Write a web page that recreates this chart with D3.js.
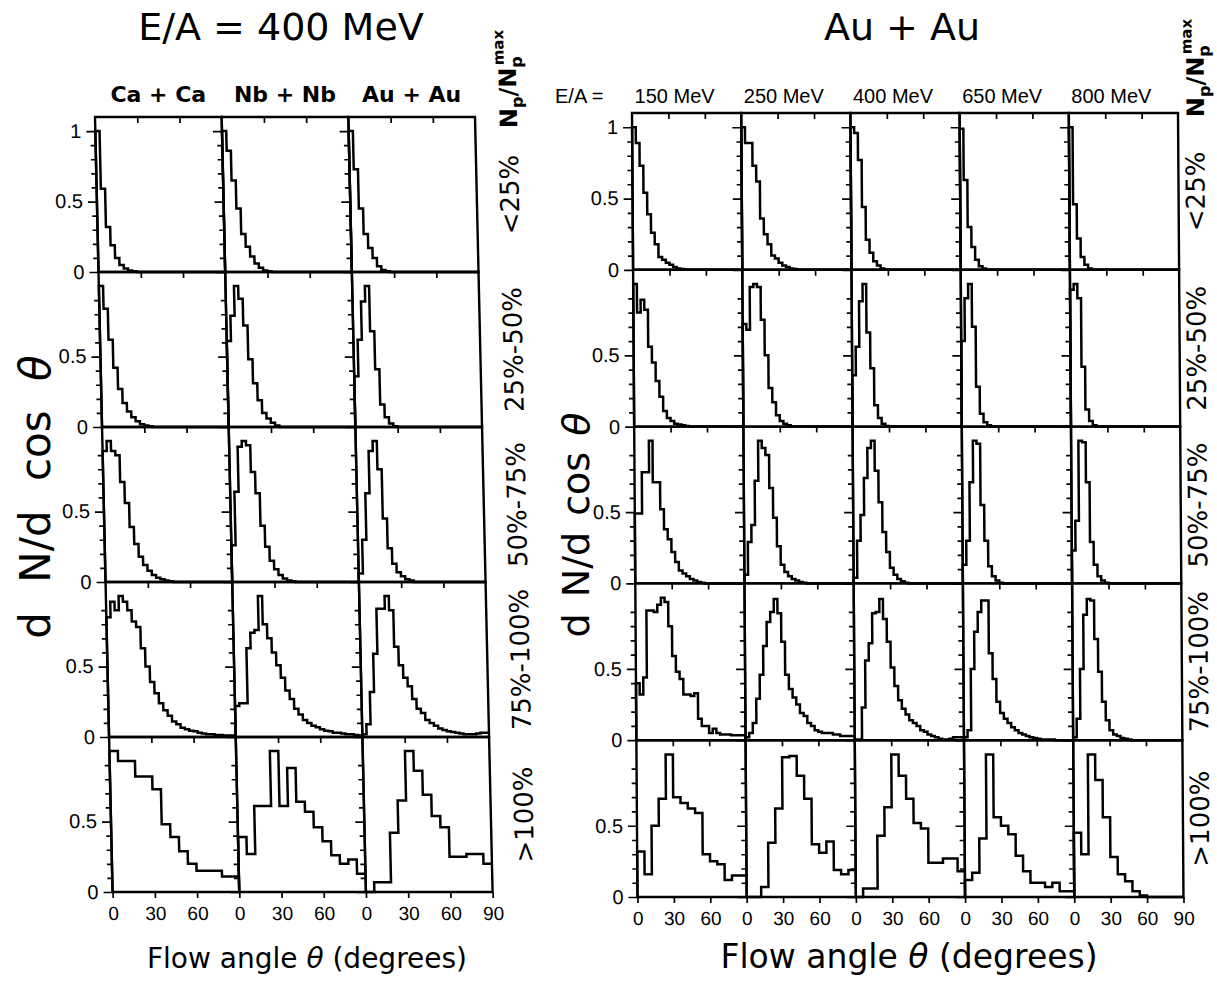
<!DOCTYPE html>
<html>
<head>
<meta charset="utf-8">
<script src="https://cdn.jsdelivr.net/npm/d3@7"></script>
<style>
  body { margin: 0; background: #fff; }
  text { fill: #000; }
</style>
</head>
<body>
<svg id="chart" width="1217" height="985"></svg>
<script>
// rows: centrality bins (N_p / N_p^max)
const centralityBins = ["<25%", "25%-50%", "50%-75%", "75%-100%", ">100%"];
// columns
const leftSystems = ["Ca + Ca", "Nb + Nb", "Au + Au"];
const rightEnergies = ["150 MeV", "250 MeV", "400 MeV", "650 MeV", "800 MeV"];
const xTicks = [0, 30, 60];
const yMajorTicks = [0, 0.5, 1];
const yMinorTicks = [0.1, 0.2, 0.3, 0.4, 0.6, 0.7, 0.8, 0.9];

// dN/dcos(theta) histograms, one list per centrality bin
// rows 1-4: 3 degree bins (30 values), row 5: 6 degree bins (15 values)

// E/A = 400 MeV, Ca + Ca
const caCa = [
  [1.0, 0.59, 0.32, 0.19, 0.1, 0.05, 0.025, 0.01, 0.005, 0, 0, 0, 0, 0, 0, 0, 0, 0, 0, 0, 0, 0, 0, 0, 0, 0, 0, 0, 0, 0],
  [1.0, 0.84, 0.62, 0.42, 0.27, 0.17, 0.11, 0.07, 0.04, 0.02, 0.01, 0.005, 0, 0, 0, 0, 0, 0, 0, 0, 0, 0, 0, 0, 0, 0, 0, 0, 0, 0],
  [0.93, 1.0, 0.93, 0.9, 0.71, 0.56, 0.39, 0.27, 0.18, 0.12, 0.08, 0.05, 0.03, 0.02, 0.01, 0.005, 0, 0, 0, 0, 0, 0, 0, 0, 0, 0, 0, 0, 0, 0],
  [0.85, 0.96, 0.9, 1.0, 0.96, 0.9, 0.82, 0.78, 0.63, 0.5, 0.39, 0.31, 0.24, 0.19, 0.15, 0.11, 0.09, 0.065, 0.055, 0.045, 0.04, 0.03, 0.025, 0.02, 0.02, 0.015, 0.015, 0.01, 0.01, 0.01],
  [1.0, 0.93, 0.93, 0.82, 0.82, 0.73, 0.48, 0.39, 0.29, 0.2, 0.15, 0.15, 0.15, 0.11, 0.11]
];
// E/A = 400 MeV, Nb + Nb
const nbNb = [
  [1.0, 0.86, 0.65, 0.45, 0.27, 0.18, 0.11, 0.06, 0.03, 0.01, 0.005, 0, 0, 0, 0, 0, 0, 0, 0, 0, 0, 0, 0, 0, 0, 0, 0, 0, 0, 0],
  [0.61, 0.79, 1.0, 0.91, 0.72, 0.48, 0.31, 0.19, 0.1, 0.06, 0.03, 0.01, 0, 0, 0, 0, 0, 0, 0, 0, 0, 0, 0, 0, 0, 0, 0, 0, 0, 0],
  [0.26, 0.64, 0.96, 1.0, 0.97, 0.78, 0.63, 0.4, 0.25, 0.15, 0.09, 0.05, 0.025, 0.01, 0.005, 0, 0, 0, 0, 0, 0, 0, 0, 0, 0, 0, 0, 0, 0, 0],
  [0.22, 0.24, 0.24, 0.63, 0.74, 0.76, 1.0, 0.8, 0.7, 0.6, 0.51, 0.42, 0.33, 0.27, 0.2, 0.16, 0.12, 0.1, 0.08, 0.07, 0.055, 0.045, 0.04, 0.03, 0.03, 0.025, 0.02, 0.02, 0.015, 0.01],
  [0.39, 0.27, 0.61, 0.61, 1.0, 0.61, 0.88, 0.64, 0.57, 0.46, 0.36, 0.26, 0.2, 0.23, 0.13]
];
// E/A = 400 MeV, Au + Au
const auAu400Left = [
  [1.0, 0.73, 0.45, 0.27, 0.17, 0.1, 0.04, 0.015, 0.005, 0, 0, 0, 0, 0, 0, 0, 0, 0, 0, 0, 0, 0, 0, 0, 0, 0, 0, 0, 0, 0],
  [0.36, 0.62, 0.89, 1.0, 0.68, 0.41, 0.16, 0.07, 0.025, 0.005, 0, 0, 0, 0, 0, 0, 0, 0, 0, 0, 0, 0, 0, 0, 0, 0, 0, 0, 0, 0],
  [0.06, 0.3, 0.63, 0.93, 1.0, 0.8, 0.45, 0.24, 0.13, 0.07, 0.04, 0.02, 0.01, 0, 0, 0, 0, 0, 0, 0, 0, 0, 0, 0, 0, 0, 0, 0, 0, 0],
  [0.02, 0.09, 0.32, 0.59, 0.91, 0.91, 1.0, 0.9, 0.64, 0.51, 0.42, 0.36, 0.27, 0.2, 0.17, 0.12, 0.1, 0.08, 0.06, 0.05, 0.04, 0.035, 0.03, 0.025, 0.02, 0.02, 0.02, 0.025, 0.03, 0.03],
  [0.0, 0.07, 0.07, 0.42, 0.65, 1.0, 0.86, 0.69, 0.54, 0.46, 0.25, 0.25, 0.27, 0.27, 0.2]
];

// Au + Au, E/A = 150 MeV
const auAu150 = [
  [1.0, 0.89, 0.73, 0.54, 0.39, 0.26, 0.18, 0.09, 0.07, 0.05, 0.035, 0.02, 0.01, 0.005, 0, 0, 0, 0, 0, 0, 0, 0, 0, 0, 0, 0, 0, 0, 0, 0],
  [1.0, 0.8, 0.89, 0.82, 0.56, 0.45, 0.32, 0.21, 0.11, 0.06, 0.04, 0.02, 0.015, 0.01, 0.005, 0, 0, 0, 0, 0, 0, 0, 0, 0, 0, 0, 0, 0, 0, 0],
  [0.49, 0.49, 0.78, 0.78, 1.0, 0.71, 0.71, 0.52, 0.38, 0.31, 0.22, 0.15, 0.09, 0.07, 0.05, 0.03, 0.02, 0.01, 0.005, 0, 0, 0, 0, 0, 0, 0, 0, 0, 0, 0],
  [0.4, 0.32, 0.44, 0.91, 0.91, 0.9, 0.95, 1.0, 0.97, 0.8, 0.59, 0.48, 0.43, 0.32, 0.32, 0.31, 0.33, 0.15, 0.1, 0.1, 0.05, 0.08, 0.05, 0.04, 0.04, 0.04, 0.035, 0.035, 0.035, 0.035],
  [0.32, 0.16, 0.5, 0.69, 1.0, 0.7, 0.66, 0.62, 0.59, 0.3, 0.25, 0.23, 0.12, 0.15, 0.15]
];
// Au + Au, E/A = 250 MeV
const auAu250 = [
  [1.0, 0.89, 0.89, 0.73, 0.62, 0.36, 0.25, 0.18, 0.1, 0.08, 0.05, 0.03, 0.02, 0.01, 0.005, 0, 0, 0, 0, 0, 0, 0, 0, 0, 0, 0, 0, 0, 0, 0],
  [0.72, 0.68, 0.98, 1.0, 0.98, 0.75, 0.5, 0.27, 0.17, 0.08, 0.04, 0.02, 0.01, 0, 0, 0, 0, 0, 0, 0, 0, 0, 0, 0, 0, 0, 0, 0, 0, 0],
  [0.06, 0.29, 0.41, 0.72, 1.0, 0.95, 0.9, 0.67, 0.46, 0.26, 0.13, 0.08, 0.05, 0.03, 0.02, 0.01, 0.005, 0, 0, 0, 0, 0, 0, 0, 0, 0, 0, 0, 0, 0],
  [0.02, 0.05, 0.12, 0.29, 0.46, 0.66, 0.83, 0.9, 0.99, 0.89, 0.69, 0.46, 0.36, 0.3, 0.25, 0.19, 0.17, 0.12, 0.1, 0.07, 0.06, 0.05, 0.05, 0.05, 0.04, 0.04, 0.03, 0.03, 0.03, 0.03],
  [0, 0, 0.07, 0.38, 0.62, 0.98, 0.99, 0.85, 0.69, 0.37, 0.31, 0.39, 0.19, 0.16, 0.19]
];
// Au + Au, E/A = 400 MeV
const auAu400 = [
  [1.0, 0.96, 0.77, 0.44, 0.21, 0.12, 0.06, 0.03, 0.01, 0, 0, 0, 0, 0, 0, 0, 0, 0, 0, 0, 0, 0, 0, 0, 0, 0, 0, 0, 0, 0],
  [0.36, 0.56, 0.88, 1.0, 0.66, 0.41, 0.15, 0.06, 0.02, 0.005, 0, 0, 0, 0, 0, 0, 0, 0, 0, 0, 0, 0, 0, 0, 0, 0, 0, 0, 0, 0],
  [0.04, 0.3, 0.48, 0.74, 0.95, 1.0, 0.79, 0.57, 0.36, 0.22, 0.11, 0.06, 0.03, 0.015, 0.005, 0, 0, 0, 0, 0, 0, 0, 0, 0, 0, 0, 0, 0, 0, 0],
  [0.005, 0.005, 0.23, 0.56, 0.68, 0.89, 0.9, 0.99, 0.85, 0.69, 0.51, 0.38, 0.28, 0.22, 0.18, 0.14, 0.12, 0.1, 0.07, 0.06, 0.04, 0.03, 0.02, 0.01, 0.005, 0.005, 0.01, 0.02, 0.02, 0.02],
  [0, 0.06, 0.06, 0.43, 0.63, 1.0, 0.85, 0.69, 0.52, 0.48, 0.24, 0.24, 0.27, 0.27, 0.18]
];
// Au + Au, E/A = 650 MeV
const auAu650 = [
  [0.99, 0.63, 0.3, 0.16, 0.07, 0.025, 0.01, 0, 0, 0, 0, 0, 0, 0, 0, 0, 0, 0, 0, 0, 0, 0, 0, 0, 0, 0, 0, 0, 0, 0],
  [0.6, 0.9, 1.0, 0.7, 0.28, 0.09, 0.03, 0.01, 0, 0, 0, 0, 0, 0, 0, 0, 0, 0, 0, 0, 0, 0, 0, 0, 0, 0, 0, 0, 0, 0],
  [0.13, 0.3, 0.71, 1.0, 0.98, 0.55, 0.3, 0.12, 0.05, 0.02, 0.005, 0, 0, 0, 0, 0, 0, 0, 0, 0, 0, 0, 0, 0, 0, 0, 0, 0, 0, 0],
  [0.02, 0.07, 0.5, 0.76, 0.9, 0.98, 0.98, 0.61, 0.43, 0.27, 0.19, 0.15, 0.12, 0.09, 0.07, 0.05, 0.04, 0.03, 0.02, 0.015, 0.01, 0.005, 0.005, 0.005, 0.005, 0, 0, 0, 0, 0],
  [0.12, 0.17, 0.41, 1.0, 0.56, 0.5, 0.44, 0.29, 0.18, 0.1, 0.1, 0.07, 0.1, 0.04, 0.04]
];
// Au + Au, E/A = 800 MeV
const auAu800 = [
  [1.0, 0.46, 0.22, 0.09, 0.035, 0.01, 0, 0, 0, 0, 0, 0, 0, 0, 0, 0, 0, 0, 0, 0, 0, 0, 0, 0, 0, 0, 0, 0, 0, 0],
  [0.96, 1.0, 0.9, 0.42, 0.12, 0.04, 0.01, 0, 0, 0, 0, 0, 0, 0, 0, 0, 0, 0, 0, 0, 0, 0, 0, 0, 0, 0, 0, 0, 0, 0],
  [0.23, 0.44, 1.0, 0.99, 0.71, 0.29, 0.13, 0.05, 0.02, 0.005, 0, 0, 0, 0, 0, 0, 0, 0, 0, 0, 0, 0, 0, 0, 0, 0, 0, 0, 0, 0],
  [0.02, 0.15, 0.5, 0.88, 0.99, 0.98, 0.71, 0.48, 0.27, 0.14, 0.07, 0.04, 0.03, 0.015, 0.01, 0.005, 0, 0, 0, 0, 0, 0, 0, 0, 0, 0, 0, 0, 0, 0],
  [0.45, 0.3, 1.0, 0.82, 0.56, 0.28, 0.16, 0.11, 0.04, 0.01, 0, 0, 0, 0, 0]
];

const svg = d3.select("#chart");
svg.append("rect").attr("width", 1217).attr("height", 985).attr("fill", "#fff");

const tickFont = "'Liberation Sans', Arial, sans-serif";
const titleFont = "'DejaVu Sans', sans-serif";

// one block of small multiples (rows = centrality, cols = system/energy)
function drawGroup(opt) {
  const colW = opt.width / opt.columns.length;
  const rowH = opt.height / centralityBins.length;
  const x = d3.scaleLinear().domain([0, 90]).range([0, colW]);
  const y = d3.scaleLinear().domain([0, 1.1]).range([rowH, 0]);

  const g = svg.append("g")
    .attr("transform", `translate(${opt.x0},${opt.top}) skewX(${opt.skew})`);

  const line = d3.line()
    .x(d => x(d[0]))
    .y(d => y(d[1]))
    .curve(d3.curveStepAfter);

  opt.columns.forEach((colData, c) => {
    colData.forEach((vals, r) => {
      const cell = g.append("g")
        .attr("transform", `translate(${c * colW},${r * rowH})`);

      // y ticks on the left edge
      cell.append("g")
        .call(d3.axisLeft(y).tickValues(yMinorTicks).tickSize(5).tickFormat(""))
        .call(a => a.select(".domain").remove());
      const yMajor = cell.append("g")
        .call(d3.axisLeft(y)
          .tickValues(r === 0 ? yMajorTicks : yMajorTicks.slice(0, 2))
          .tickSize(9).tickPadding(5)
          .tickFormat(c === 0 ? (d => d === 0.5 ? "0.5" : d3.format("d")(d)) : ""))
        .call(a => a.select(".domain").remove());
      yMajor.selectAll("text")
        .style("font-family", tickFont).style("font-size", "20px");

      // 30 / 60 ticks on top edge, pointing inward
      cell.append("g")
        .call(d3.axisBottom(x).tickValues([30, 60]).tickSize(6).tickFormat(""))
        .call(a => a.select(".domain").remove());

      // bottom row: outward ticks with labels
      if (r === centralityBins.length - 1) {
        const last = c === opt.columns.length - 1;
        const xb = cell.append("g")
          .attr("transform", `translate(0,${rowH})`)
          .call(d3.axisBottom(x)
            .tickValues(last ? xTicks.concat([90]) : xTicks)
            .tickSize(6).tickPadding(9))
          .call(a => a.select(".domain").remove());
        xb.selectAll("text")
          .style("font-family", tickFont).style("font-size", "19px");
      }

      g.selectAll(".tick line").attr("stroke", "#000").attr("stroke-width", 1.7);

      // histogram
      const bw = 90 / vals.length;
      const pts = vals.map((v, i) => [i * bw, v]);
      pts.push([90, vals[vals.length - 1]]);
      cell.append("path")
        .attr("d", line([[0, 0]].concat(pts)))
        .attr("fill", "none")
        .attr("stroke", "#000")
        .attr("stroke-width", 2.5)
        .attr("stroke-linejoin", "miter");

      // cell frame
      cell.append("rect")
        .attr("width", colW).attr("height", rowH)
        .attr("fill", "none").attr("stroke", "#000").attr("stroke-width", 2.4);
    });
  });

  // centrality labels on the right
  centralityBins.forEach((lab, r) => {
    g.append("text")
      .attr("transform", `translate(${opt.width + opt.labelDx},${(r + 0.5) * rowH}) rotate(-90)`)
      .attr("text-anchor", "middle")
      .style("font-family", titleFont).style("font-size", "26px")
      .text(lab);
  });

  // N_p / N_p^max
  const np = g.append("text")
    .attr("transform", `translate(${opt.width + opt.labelDx},${opt.npY}) rotate(-90)`)
    .attr("text-anchor", "middle")
    .style("font-family", titleFont).style("font-size", "24px").style("font-weight", "bold");
  np.append("tspan").text("N");
  np.append("tspan").attr("dy", 6).style("font-size", "16px").text("p");
  np.append("tspan").attr("dy", -6).text("/N");
  np.append("tspan").attr("dy", 6).style("font-size", "16px").text("p");
  np.append("tspan").attr("dx", -9).attr("dy", -18).style("font-size", "15px").text("max");

  return { g, colW, rowH };
}

const left = drawGroup({
  x0: 95, top: 117, width: 380, height: 775, skew: 1.3,
  columns: [caCa, nbNb, auAu400Left], labelDx: 42, npY: -38
});
const right = drawGroup({
  x0: 632, top: 113, width: 546, height: 784, skew: 0.4,
  columns: [auAu150, auAu250, auAu400, auAu650, auAu800], labelDx: 26, npY: -45
});

// column headers
leftSystems.forEach((s, c) => {
  svg.append("text")
    .attr("x", 95 + (c + 0.5) * left.colW).attr("y", 102)
    .attr("text-anchor", "middle")
    .style("font-family", titleFont).style("font-size", "22px").style("font-weight", "bold")
    .text(s);
});
svg.append("text")
  .attr("x", 555).attr("y", 103)
  .style("font-family", tickFont).style("font-size", "20px")
  .text("E/A =");
rightEnergies.forEach((s, c) => {
  svg.append("text")
    .attr("x", 632 + (c + 0.5) * right.colW - 12).attr("y", 103)
    .attr("text-anchor", "middle")
    .style("font-family", tickFont).style("font-size", "20px")
    .text(s);
});

// titles
svg.append("text").attr("x", 281).attr("y", 40).attr("text-anchor", "middle")
  .style("font-family", titleFont).style("font-size", "38px").text("E/A = 400 MeV");
svg.append("text").attr("x", 902).attr("y", 40).attr("text-anchor", "middle")
  .style("font-family", titleFont).style("font-size", "38px").text("Au + Au");

// x axis titles
svg.append("text").attr("x", 307).attr("y", 968).attr("text-anchor", "middle")
  .style("font-family", titleFont).style("font-size", "28px")
  .html("Flow angle <tspan font-style='italic'>θ</tspan> (degrees)");
svg.append("text").attr("x", 909).attr("y", 968).attr("text-anchor", "middle")
  .style("font-family", titleFont).style("font-size", "33px")
  .html("Flow angle <tspan font-style='italic'>θ</tspan> (degrees)");

// y axis titles
svg.append("text").attr("transform", "translate(50,497) rotate(-90)").attr("text-anchor", "middle")
  .style("font-family", titleFont).style("font-size", "42px").style("word-spacing", "16px")
  .html("d N/d cos <tspan font-style='italic'>θ</tspan>");
svg.append("text").attr("transform", "translate(589,525) rotate(-90)").attr("text-anchor", "middle")
  .style("font-family", titleFont).style("font-size", "38px").style("word-spacing", "4px")
  .html("d N/d cos <tspan font-style='italic'>θ</tspan>");
</script>
</body>
</html>
